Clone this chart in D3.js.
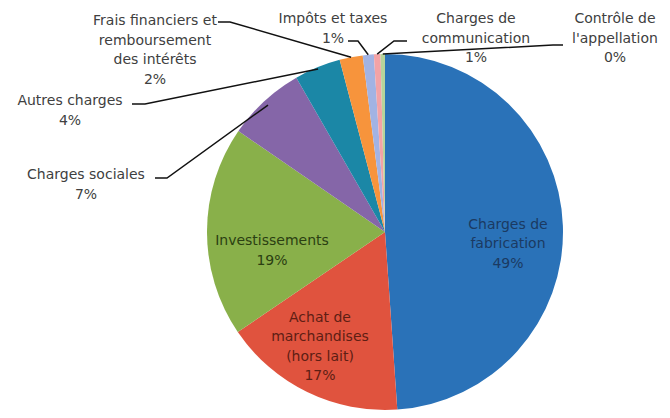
<!DOCTYPE html>
<html>
<head>
<meta charset="utf-8">
<script src="https://cdn.jsdelivr.net/npm/d3@7"></script>
<style>
  body { margin: 0; background: #fff; }
  svg text { font-family: "DejaVu Sans", sans-serif; font-size: 14px; }
</style>
</head>
<body>
<div id="graf"></div>
<script>
// données (ordre horaire depuis midi)
const categories = [
  "Charges de fabrication",
  "Achat de marchandises (hors lait)",
  "Investissements",
  "Charges sociales",
  "Autres charges",
  "Frais financiers et remboursement des intérêts",
  "Impôts et taxes",
  "Charges de communication",
  "Contrôle de l'appellation"
]
const valeurs = [48.9, 16.6, 19.1, 7.1, 4.2, 2.1, 1.0, 0.6, 0.4]
const pctLabels = ["49%", "17%", "19%", "7%", "4%", "2%", "1%", "1%", "0%"]
// découpage des étiquettes en lignes
const lignes = [
  ["Charges de", "fabrication"],
  ["Achat de", "marchandises", "(hors lait)"],
  ["Investissements"],
  ["Charges sociales"],
  ["Autres charges"],
  ["Frais financiers et", "remboursement", "des intérêts"],
  ["Impôts et taxes"],
  ["Charges de", "communication"],
  ["Contrôle de", "l'appellation"]
]

const couleurs = ["#2a72b8", "#e0533e", "#89b04a", "#8566a8", "#1b87a6",
                  "#f7943c", "#a2b3e3", "#f3a3a6", "#b6d49b"]
const couleursTexte = ["#1b3a62", "#5e1e14", "#2b3f12"]

const W = 670, H = 418
const cx = 385, cy = 232, r = 178
const lh = 19.5

const svg = d3.select("#graf").append("svg")
  .attr("width", W).attr("height", H)

const pie = d3.pie().sort(null).value(d => d)
const arcs = pie(valeurs)
const arc = d3.arc().innerRadius(0).outerRadius(r)

const g = svg.append("g").attr("transform", `translate(${cx}, ${cy})`)

g.selectAll("path")
  .data(arcs)
  .enter()
  .append("path")
  .attr("d", arc)
  .attr("fill", (d, i) => couleurs[i])

// étiquettes internes (centre du bloc de texte)
const internes = [
  { i: 0, x: 508, y: 243 },
  { i: 1, x: 320, y: 346 },
  { i: 2, x: 272, y: 250 }
]
internes.forEach(o => {
  const txt = lignes[o.i].concat([pctLabels[o.i]])
  const y0 = o.y - (txt.length - 1) * lh / 2
  svg.append("text")
    .attr("text-anchor", "middle")
    .attr("fill", couleursTexte[o.i])
    .selectAll("tspan")
    .data(txt)
    .enter()
    .append("tspan")
    .attr("x", o.x)
    .attr("y", (d, k) => y0 + k * lh + 5)
    .text(d => d)
})

// étiquettes externes : position du bloc + ancrage de la ligne de rappel
const externes = [
  { i: 3, x: 86, y: 174, a: [155, 178], b: [167, 178] },
  { i: 4, x: 70, y: 100, a: [132, 104], b: [145, 104] },
  { i: 5, x: 155, y: 20, a: [218, 22], b: [230, 22] },
  { i: 6, x: 333, y: 18, a: [348, 41], b: [358, 41] },
  { i: 7, x: 476, y: 18, a: [407, 41], b: [394, 41] },
  { i: 8, x: 615, y: 18, a: [563, 45], b: [553, 45] }
]

const rayonRappel = [0, 0, 0, 0.97, 0.99, 1.0, 1.0, 1.0, 1.0]

externes.forEach(o => {
  const txt = lignes[o.i].concat([pctLabels[o.i]])
  svg.append("text")
    .attr("text-anchor", "middle")
    .attr("fill", "#404040")
    .selectAll("tspan")
    .data(txt)
    .enter()
    .append("tspan")
    .attr("x", o.x)
    .attr("y", (d, k) => o.y + k * lh + 5)
    .text(d => d)

  const d = arcs[o.i]
  const m = (d.startAngle + d.endAngle) / 2
  const rr = r * rayonRappel[o.i]
  const p = [cx + rr * Math.sin(m), cy - rr * Math.cos(m)]
  svg.append("path")
    .attr("d", d3.line()([o.a, o.b, p]))
    .attr("fill", "none")
    .attr("stroke", "#111")
    .attr("stroke-width", 1.5)
})
</script>
</body>
</html>
